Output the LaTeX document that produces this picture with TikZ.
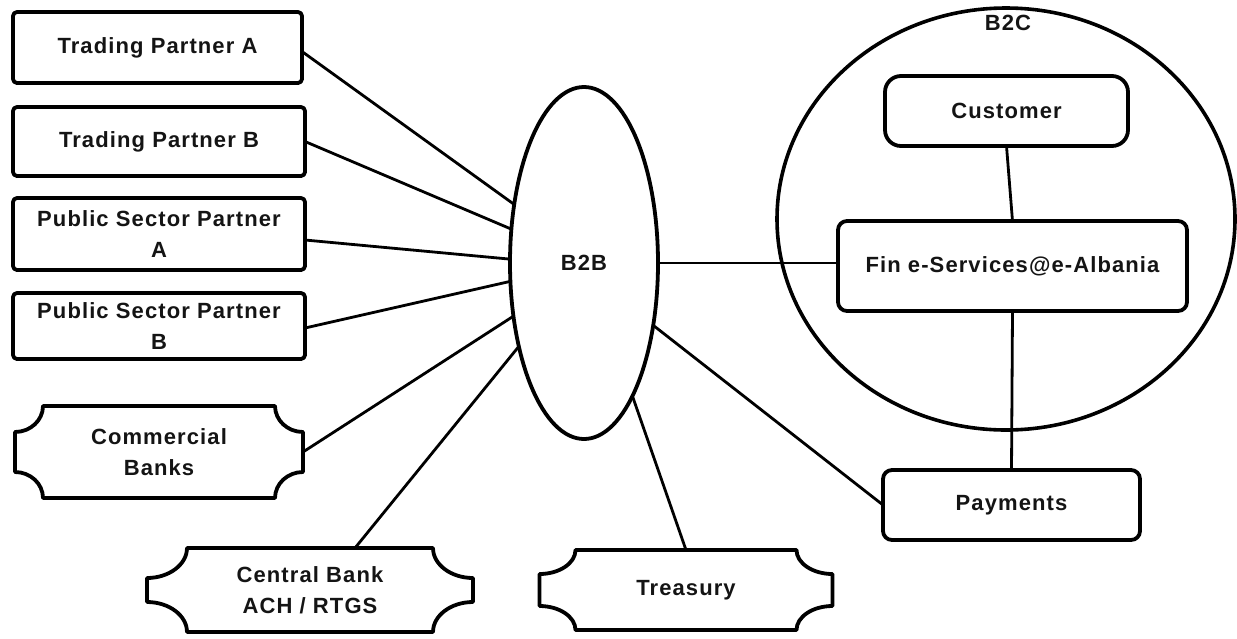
\documentclass[tikz,border=0pt]{standalone}
\usepackage{fontspec}
\setmainfont{Liberation Sans}[LetterSpace=5]
\usetikzlibrary{shapes.geometric,calc}

% outline of a plaque (concave notched corners) around a node
% #1 node name, #2 horizontal notch size, #3 vertical notch size
\newcommand\plaqueoutline[3]{%
  \draw[outline]
    ($(#1.north west)+(#2,0)$) -- ($(#1.north east)+(-#2,0)$)
    .. controls +(0,0.55*#3) and +(-0.55*#2,0) .. ($(#1.north east)+(0,#3)$)
    -- ($(#1.south east)+(0,-#3)$)
    .. controls +(-0.55*#2,0) and +(0,-0.55*#3) .. ($(#1.south east)+(-#2,0)$)
    -- ($(#1.south west)+(#2,0)$)
    .. controls +(0,-0.55*#3) and +(0.55*#2,0) .. ($(#1.south west)+(0,-#3)$)
    -- ($(#1.north west)+(0,#3)$)
    .. controls +(0.55*#2,0) and +(0,0.55*#3) .. cycle;}

\begin{document}
\begin{tikzpicture}[x=1pt,y=-1pt,
  lbl/.style={font=\fontsize{22}{31}\selectfont\bfseries, text=black!92,
    align=center, inner sep=0pt, outer sep=0pt},
  outline/.style={line width=3.8pt, line join=round},
  box/.style={lbl, draw, fill=white, outline, rounded corners=4pt},
  plaque/.style={lbl},
  conn/.style={line width=2.8pt, line cap=round}]

\useasboundingbox (0,0) rectangle (1237,638);

% B2C boundary
\draw[line width=3.6pt] (1006,219) ellipse [x radius=229, y radius=211];
\node[lbl] (b2c) at (1008,23) {B2C};

% partner boxes on the left
\node[box, minimum width=289, minimum height=71] (tpa) at (157.5,47.5) {Trading Partner A};
\node[box, minimum width=292, minimum height=69] (tpb) at (159,141.5) {Trading Partner B};
\node[box, minimum width=292, minimum height=72] (psa) at (159,234) {Public Sector Partner\\A};
\node[box, minimum width=292, minimum height=66] (psb) at (159,326) {Public Sector Partner\\B};

% banks and treasury (plaque outlines)
\node[plaque, minimum width=288, minimum height=92] (cbk) at (159,452) {Commercial\\Banks};
\plaqueoutline{cbk}{28}{26}
\node[plaque, minimum width=326, minimum height=84] (cen) at (310,590) {Central Bank\\ACH / RTGS};
\plaqueoutline{cen}{40}{30}
\node[plaque, minimum width=293, minimum height=80] (tre) at (686,590) {Treasury};
\plaqueoutline{tre}{36}{24}

% hub
\node[lbl, draw, ellipse, line width=3.8pt, minimum width=148, minimum height=352] (b2b) at (584,263) {B2B};

% B2C side
\node[box, rounded corners=16pt, minimum width=243, minimum height=70] (cus) at (1006.5,111) {Customer};
\node[box, rounded corners=9pt, minimum width=349, minimum height=90] (fin) at (1012.5,266) {Fin e-Services@e-Albania};
\node[box, rounded corners=9pt, minimum width=257, minimum height=70] (pay) at (1011.5,505) {Payments};

% connectors
\draw[conn] (b2b.140.3) -- ([yshift=-4pt]tpa.east);
\draw[conn] (b2b.155.6) -- (tpb.east);
\draw[conn] (b2b.177.7) -- ([yshift=-6pt]psa.east);
\draw[conn] (b2b.194.5) -- ([yshift=-2pt]psb.east);
\draw[conn] (b2b.217.5) -- (cbk.east);
\draw[conn] (b2b.232.3) -- ([xshift=45pt]cen.north);
\draw[conn] (b2b.-70.6) -- (tre.north);
\draw[conn] (b2b.-42.9) -- (pay.west);
\draw[conn] (b2b.0) -- (b2b.0 -| fin.west);
\draw[conn] (cus.south) -- (fin.north);
\draw[conn] (fin.south) -- (pay.north);

\end{tikzpicture}
\end{document}
